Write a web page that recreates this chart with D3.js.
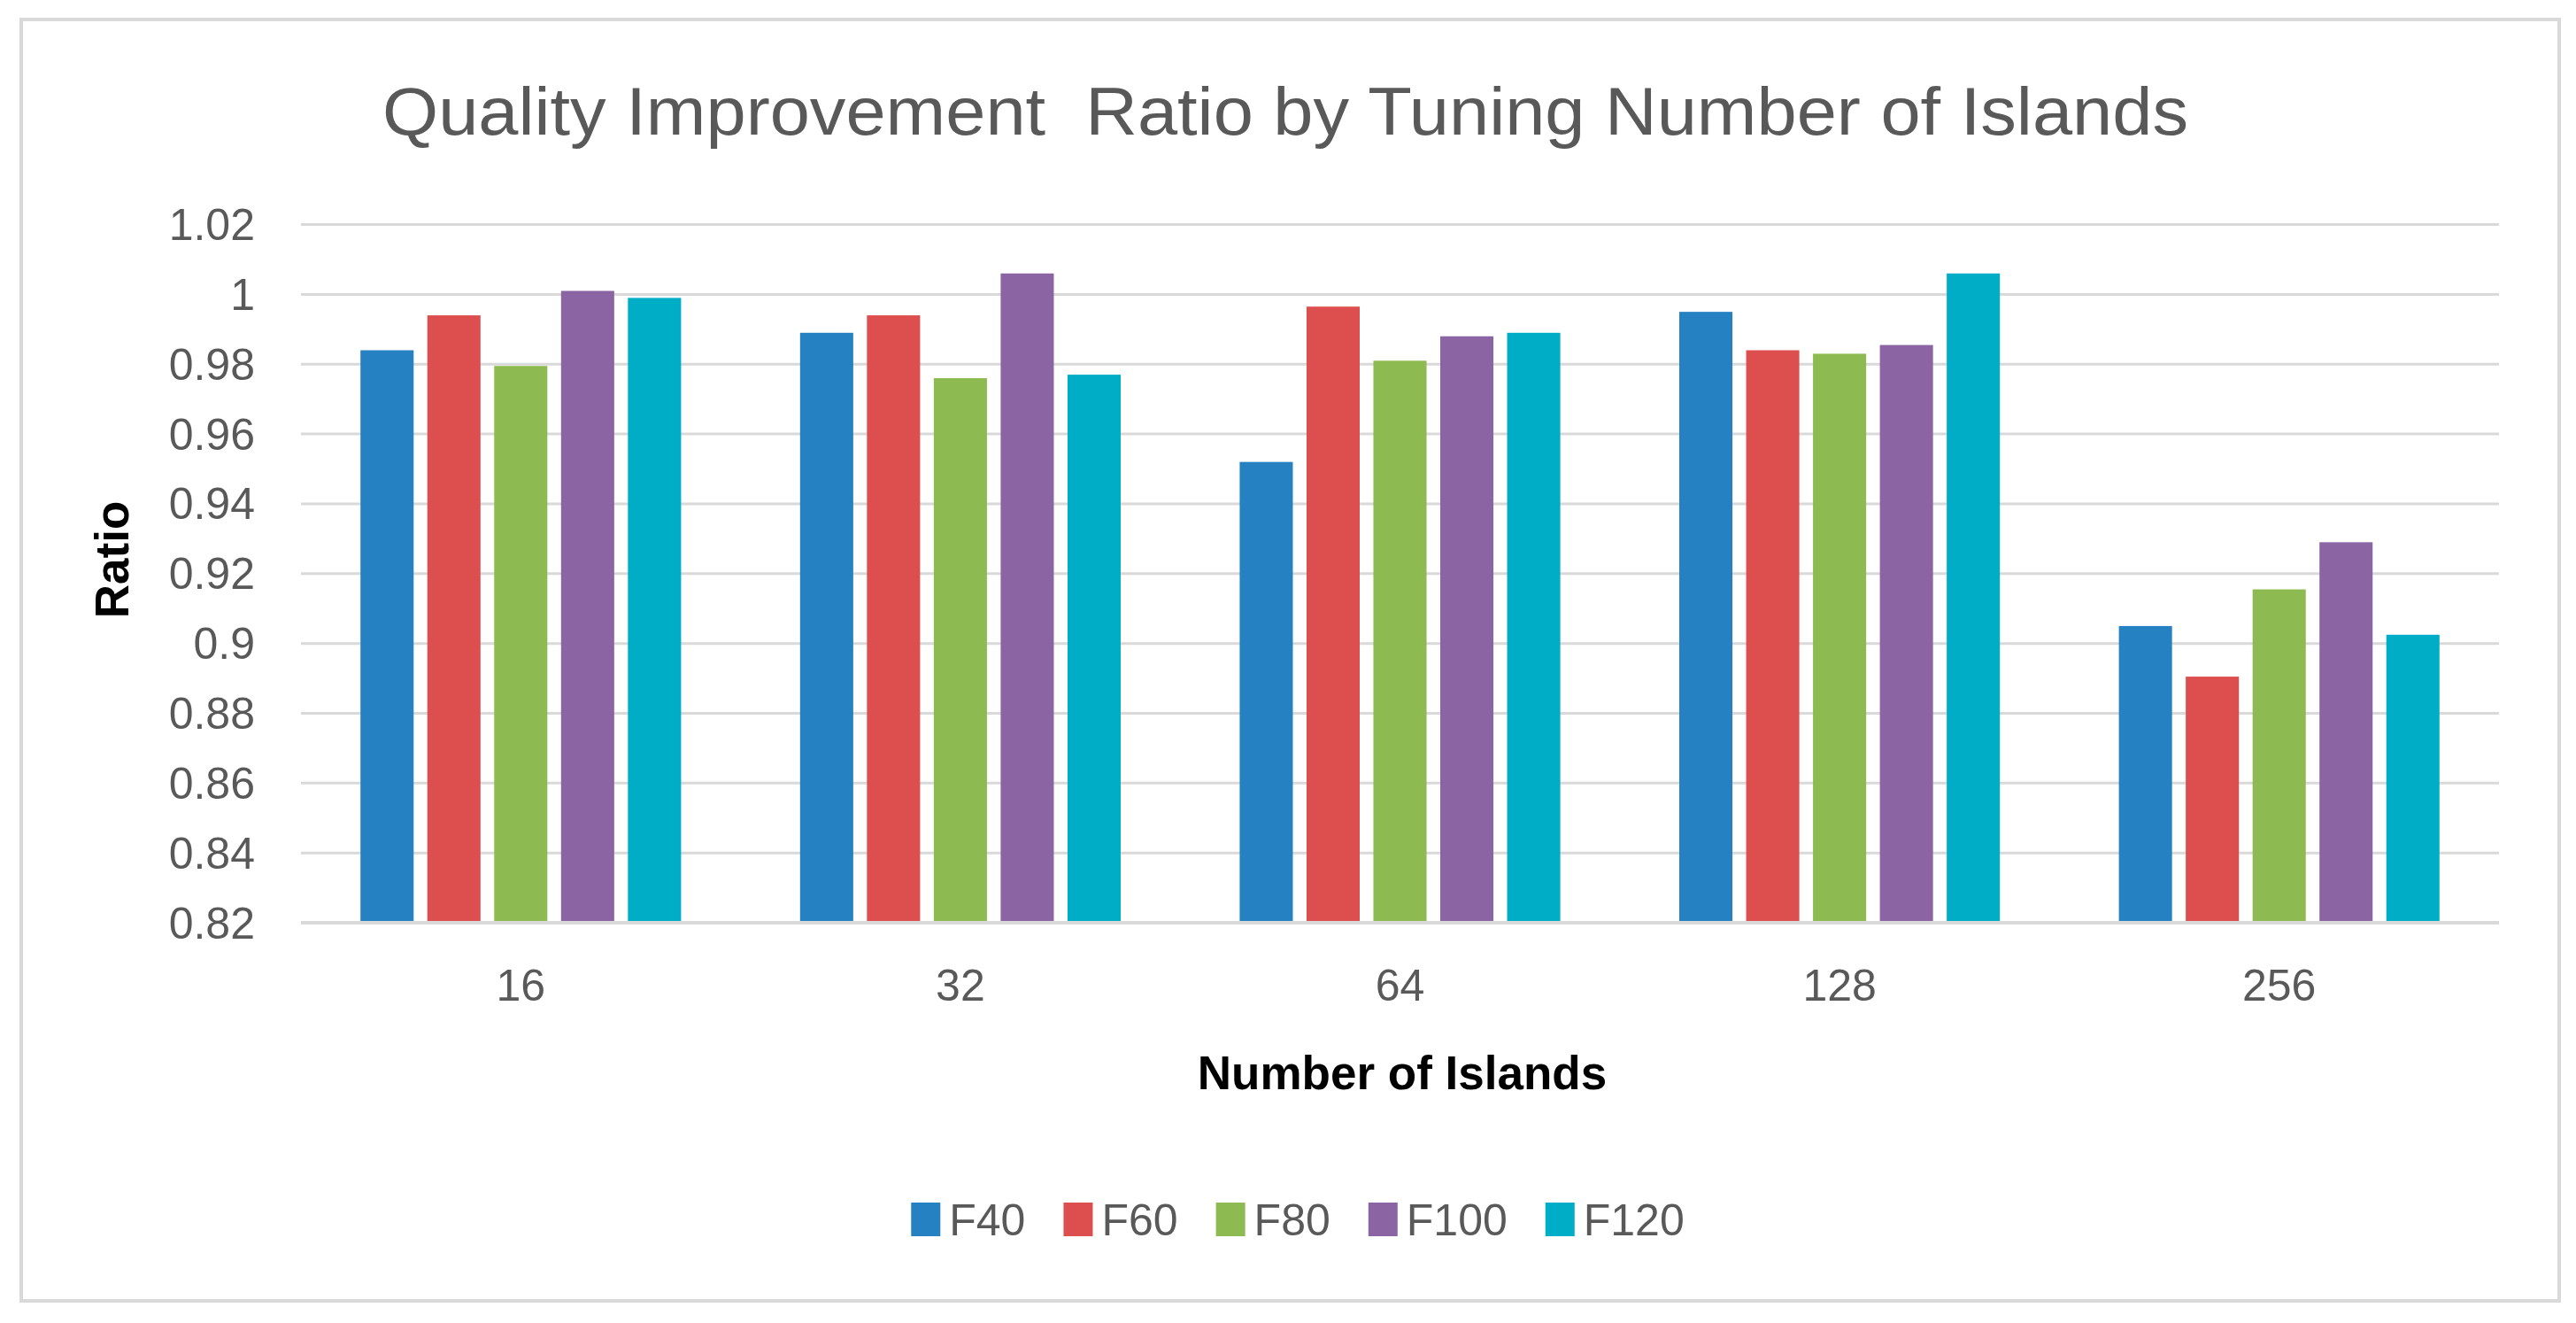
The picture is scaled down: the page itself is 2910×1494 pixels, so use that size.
<!DOCTYPE html>
<html>

<head>
  <title>Quality Improvement Ratio by Tuning Number of Islands</title>
  <script src="https://cdn.jsdelivr.net/npm/d3@7/dist/d3.min.js"></script>
  <style>
    body {
      margin: 0;
      background: #fff;
    }

    svg text {
      font-family: "Liberation Sans", Arial, sans-serif;
    }

    text.tick {
      fill: #595959;
      font-size: 50px;
    }

    text.axis-title {
      fill: #000;
      font-weight: bold;
      font-size: 53px;
    }
  </style>
</head>

<body>
  <svg id="chart" width="2910" height="1494"></svg>

  <script>
    var categories = ['16', '32', '64', '128', '256'];
    var seriesNames = ['F40', 'F60', 'F80', 'F100', 'F120'];

    var F40 = [0.984, 0.989, 0.952, 0.995, 0.905];
    var F60 = [0.994, 0.994, 0.9965, 0.984, 0.8905];
    var F80 = [0.9795, 0.976, 0.981, 0.983, 0.9155];
    var F100 = [1.001, 1.006, 0.988, 0.9855, 0.929];
    var F120 = [0.999, 0.977, 0.989, 1.006, 0.9025];

    var yTicks = [0.82, 0.84, 0.86, 0.88, 0.9, 0.92, 0.94, 0.96, 0.98, 1, 1.02];

    var colors = ['#2581c1', '#dd4f4e', '#8dbb51', '#8b65a3', '#00adc6'];

    var values = [F40, F60, F80, F100, F120];

    var svg = d3.select('#chart');

    // outer frame
    svg.append('rect')
      .attr('x', 24)
      .attr('y', 22)
      .attr('width', 2867)
      .attr('height', 1447)
      .attr('fill', '#fff')
      .attr('stroke', '#d9d9d9')
      .attr('stroke-width', 4);

    // plot area (don't call it "top", that's window.top)
    var plotLeft = 340, plotRight = 2823, plotTop = 253.6, plotBottom = 1042;

    var x0 = d3.scaleBand()
      .domain(categories)
      .range([plotLeft, plotRight]);

    var x1 = d3.scaleBand()
      .domain(seriesNames)
      .range([0, x0.bandwidth()])
      .paddingInner(0.205)
      .paddingOuter(0.89);

    var y = d3.scaleLinear()
      .domain([0.82, 1.02])
      .range([plotBottom, plotTop]);

    // gridlines
    svg.append('g')
      .selectAll('line')
      .data(yTicks)
      .enter()
      .append('line')
      .attr('x1', plotLeft)
      .attr('x2', plotRight)
      .attr('y1', d => y(d))
      .attr('y2', d => y(d))
      .attr('stroke', '#d9d9d9')
      .attr('stroke-width', 3);

    // y tick labels
    svg.append('g')
      .selectAll('text')
      .data(yTicks)
      .enter()
      .append('text')
      .attr('class', 'tick')
      .attr('x', 288)
      .attr('y', d => y(d))
      .attr('dy', '0.35em')
      .attr('text-anchor', 'end')
      .text(d => String(+d.toFixed(2)));

    // bars
    var rows = categories.map((c, i) => ({
      cat: c,
      vals: seriesNames.map((s, j) => ({ name: s, value: values[j][i], color: colors[j] }))
    }));

    var group = svg.append('g')
      .selectAll('g')
      .data(rows)
      .enter()
      .append('g')
      .attr('transform', d => 'translate(' + x0(d.cat) + ',0)');

    group.selectAll('rect')
      .data(d => d.vals)
      .enter()
      .append('rect')
      .attr('x', d => x1(d.name))
      .attr('y', d => y(d.value))
      .attr('width', x1.bandwidth())
      .attr('height', d => y(0.82) - y(d.value))
      .attr('fill', d => d.color);

    // baseline on top of the bars
    svg.append('line')
      .attr('x1', plotLeft)
      .attr('x2', plotRight)
      .attr('y1', y(0.82))
      .attr('y2', y(0.82))
      .attr('stroke', '#d9d9d9')
      .attr('stroke-width', 4);

    // x tick labels
    svg.append('g')
      .selectAll('text')
      .data(categories)
      .enter()
      .append('text')
      .attr('class', 'tick')
      .attr('x', d => x0(d) + x0.bandwidth() / 2)
      .attr('y', 1112)
      .attr('dy', '0.35em')
      .attr('text-anchor', 'middle')
      .text(d => d);

    // title
    svg.append('text')
      .attr('x', 1452)
      .attr('y', 152)
      .attr('text-anchor', 'middle')
      .attr('xml:space', 'preserve')
      .style('white-space', 'pre')
      .style('font-size', '76px')
      .attr('textLength', 2040)
      .attr('lengthAdjust', 'spacingAndGlyphs')
      .attr('fill', '#595959')
      .text('Quality Improvement  Ratio by Tuning Number of Islands');

    // axis titles
    svg.append('text')
      .attr('class', 'axis-title')
      .attr('x', 1584)
      .attr('y', 1211)
      .attr('dy', '0.35em')
      .attr('text-anchor', 'middle')
      .text('Number of Islands');

    svg.append('text')
      .attr('class', 'axis-title')
      .attr('transform', 'translate(126,632) rotate(-90)')
      .attr('dy', '0.35em')
      .attr('text-anchor', 'middle')
      .text('Ratio');

    // legend, centred under the chart
    var legend = svg.append('g');
    var items = legend.selectAll('g')
      .data(seriesNames)
      .enter()
      .append('g');

    items.append('rect')
      .attr('width', 33)
      .attr('height', 38)
      .attr('y', -19)
      .attr('fill', (d, i) => colors[i]);

    items.append('text')
      .attr('x', 43)
      .attr('dy', '0.35em')
      .style('font-size', '50px')
      .attr('fill', '#595959')
      .text(d => d);

    var pos = 0;
    items.each(function () {
      var w = 43 + this.querySelector('text').getComputedTextLength();
      d3.select(this).attr('transform', 'translate(' + pos + ',0)');
      pos += w + 43;
    });
    var total = pos - 43;
    legend.attr('transform', 'translate(' + (1466 - total / 2) + ',1377)');
  </script>
</body>

</html>
